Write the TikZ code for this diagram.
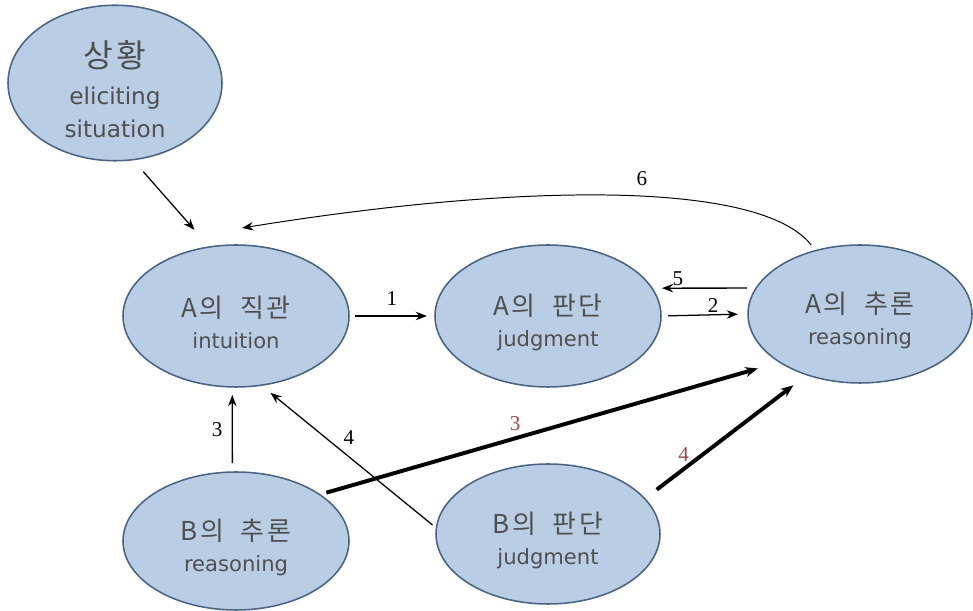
\documentclass[tikz,border=0pt]{standalone}
\usepackage{fontspec}
\setmainfont{DejaVu Sans}
\newfontfamily\kr[LetterSpace=10]{Noto Sans CJK KR}
\newfontfamily\numfont{Liberation Serif}
\usetikzlibrary{shapes.geometric,arrows.meta}
\definecolor{bubblefill}{RGB}{185,205,229}
\definecolor{bubbleline}{RGB}{74,100,132}
\definecolor{bubbletext}{RGB}{80,80,80}
\definecolor{numred}{RGB}{160,70,70}
\newcommand{\krline}[1]{{\kr\fontsize{18.5}{22}\selectfont\rule{0pt}{25pt}#1}}

\begin{document}
\begin{tikzpicture}[
    bubble/.style={ellipse, draw=bubbleline, fill=bubblefill, line width=1.1pt,
        inner sep=0pt, outer sep=0pt, align=center, text=bubbletext,
        font=\fontsize{15}{22}\selectfont},
    arr/.style={-{Stealth[length=8pt,width=6pt]}, line width=0.9pt},
    fatarr/.style={-{Stealth[length=9pt,width=7pt]}, line width=2.8pt},
    num/.style={font=\numfont\fontsize{15}{15}\selectfont, inner sep=1pt}
]
    \useasboundingbox (0,0) rectangle (24.325,15.275);

    % ellipses
    \node[bubble, minimum width=5.35cm, minimum height=3.65cm, font=\fontsize{16.5}{23.5}\selectfont] (sit) at (2.875,13.2)
        {{\kr\fontsize{23}{26}\selectfont\rule{0pt}{28pt}상황}\\[3pt]eliciting\\situation};
    \node[bubble, minimum width=5.65cm, minimum height=3.55cm] (ai) at (5.9,7.375)
        {\krline{A의\ \ 직관}\\intuition};
    \node[bubble, minimum width=5.65cm, minimum height=3.55cm] (aj) at (13.7,7.375)
        {\krline{A의\ \ 판단}\\judgment};
    \node[bubble, minimum width=5.6cm, minimum height=3.45cm] (ar) at (21.5,7.425)
        {\krline{A의\ \ 추론}\\reasoning};
    \node[bubble, minimum width=5.65cm, minimum height=3.45cm] (br) at (5.9,1.75)
        {\krline{B의\ \ 추론}\\reasoning};
    \node[bubble, minimum width=5.6cm, minimum height=3.5cm] (bj) at (13.7,1.925)
        {\krline{B의\ \ 판단}\\judgment};

    % thin arrows
    \draw[arr, shorten <=0.4cm, shorten >=0.57cm] (sit.-77) -- (ai.111);
    \draw[arr, shorten <=0.15cm, shorten >=0.2cm] (ai.east) -- node[num, above=0.22cm]{1} (aj.west);
    \draw[arr, shorten <=0.175cm, shorten >=0.25cm] (aj.east) -- node[num, pos=0.6, above=0pt]{2} (ar.west);
    \draw[arr, shorten <=0.225cm, shorten >=0.25cm] (ar.166) -- node[num, pos=0.75, above=0pt]{5} (aj.15);

    \coordinate (a6) at ([shift={(0.15,0.425)}]ai.north);
    \draw[arr, line width=0.7pt, shorten <=0.18cm] (ar.125) .. controls (19.0,10.775) and (13.0,10.7) ..
        node[num, pos=0.45, above=0.25cm]{6} (a6);

    \draw[arr, shorten <=0.225cm, shorten >=0.2cm] (br.93) -- node[num, left=0.2cm]{3} (ai.-93);
    \draw[arr, shorten <=0.125cm, shorten >=0.3cm] (bj.177) -- node[num, above=0.25cm]{4} (ai.-70);

    % thick arrows
    \draw[fatarr, shorten <=0.175cm, shorten >=0.57cm] (br.29) -- node[num, text=numred, pos=0.425, above=0.1cm]{3} (ar.-149);
    \draw[fatarr, shorten <=0.375cm, shorten >=0.43cm] (bj.20) -- node[num, text=numred, pos=0.24, above=0.1cm]{4} (ar.-131);
\end{tikzpicture}
\end{document}
